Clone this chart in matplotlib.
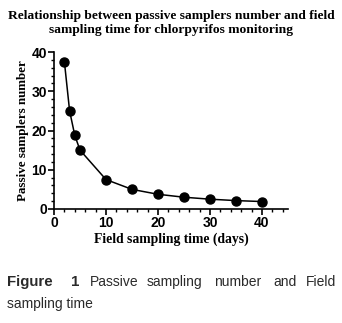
import matplotlib
matplotlib.use('Agg')
import matplotlib.pyplot as plt
from matplotlib.ticker import MultipleLocator

# data
days = [2, 3, 4, 5, 10, 15, 20, 25, 30, 35, 40]
samplers = [37.5, 25, 18.75, 15, 7.5, 5, 3.75, 3, 2.5, 2.14, 1.9]

x_ticks = [0, 10, 20, 30, 40]
y_ticks = [0, 10, 20, 30, 40]

caption_words = ['Passive', 'sampling', 'number', 'and', 'Field']

fig = plt.figure(figsize=(3.42, 3.23), dpi=100)
ax = fig.add_axes([54/342, 1 - 209/323, 234/342, 157/323])

ax.plot(days, samplers, color='black', lw=1.1, marker='o', ms=6.5)

ax.set_xlim(0, 45)
ax.set_ylim(0, 40)
ax.set_xticks(x_ticks)
ax.set_yticks(y_ticks)
ax.xaxis.set_minor_locator(MultipleLocator(2))
ax.yaxis.set_minor_locator(MultipleLocator(2))
for sp in ['top', 'right']:
    ax.spines[sp].set_visible(False)
for sp in ['left', 'bottom']:
    ax.spines[sp].set_linewidth(1.2)
ax.tick_params(which='major', length=4, width=1.2, labelsize=10, pad=1)
ax.tick_params(which='minor', length=2.5, width=1.0)
for lb in ax.get_xticklabels() + ax.get_yticklabels():
    lb.set_family('Liberation Sans')
    lb.set_fontweight('bold')

ax.set_xlabel('Field sampling time (days)', family='Liberation Serif',
              fontweight='bold', fontsize=9.8, labelpad=2)
ax.set_ylabel('Passive samplers number', family='Liberation Serif',
              fontweight='bold', fontsize=9.4, labelpad=2)

fig.text(171/342, 1 - 16/323, 'Relationship between passive samplers number and field',
         ha='center', va='center', family='Liberation Serif', fontweight='bold', fontsize=9.7)
fig.text(171/342, 1 - 30/323, 'sampling time for chlorpyrifos monitoring',
         ha='center', va='center', family='Liberation Serif', fontweight='bold', fontsize=9.7)

# caption, spread out like justified text
cap_color = '#2a2a2a'
fig.text(7/342, 1 - 282/323, 'Figure', ha='left', va='center', family='Liberation Sans',
         fontweight='bold', fontsize=10.8, color=cap_color)
fig.text(71/342, 1 - 282/323, '1', ha='left', va='center', family='Liberation Sans',
         fontweight='bold', fontsize=10.8, color=cap_color)
word_x = [90, 147, 214, 273, 306]
for w, xx in zip(caption_words, word_x):
    fig.text(xx/342, 1 - 282/323, w, ha='left', va='center', family='Liberation Sans',
             fontsize=10, color=cap_color)
fig.text(7/342, 1 - 304/323, 'sampling time', ha='left', va='center',
         family='Liberation Sans', fontsize=10, color=cap_color)

fig.savefig('out.png', dpi=100)
